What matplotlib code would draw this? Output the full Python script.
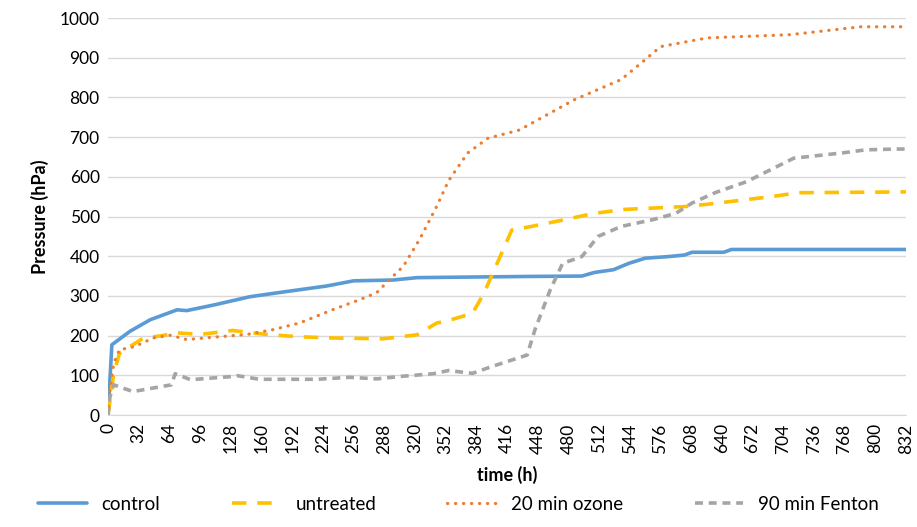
import matplotlib
matplotlib.use('Agg')
import matplotlib.pyplot as plt

plt.rcParams['font.family'] = ['Lato', 'DejaVu Sans']

# tempos (h) e pressao (hPa)
t_control = [0, 4, 23, 44, 72, 82, 110, 148, 183, 228, 256, 297, 322, 357, 437,
             494, 507, 527, 543, 560, 584, 601, 609, 642, 650, 832]
p_control = [0, 177, 211, 240, 265, 263, 277, 298, 310, 325, 338, 340, 346, 347, 349,
             350, 359, 366, 382, 395, 399, 403, 410, 410, 417, 417]

t_untreated = [0, 6, 12, 20, 37, 54, 72, 96, 130, 165, 200, 235, 287, 322, 343, 352,
               380, 392, 421, 433, 466, 507, 539, 601, 629, 691, 720, 832]
p_untreated = [0, 105, 156, 168, 194, 199, 207, 203, 213, 203, 197, 194, 192, 202, 232, 236,
               256, 307, 466, 471, 487, 508, 518, 525, 532, 550, 560, 562]

t_ozone = [0, 2, 6, 12, 23, 32, 47, 65, 82, 110, 145, 172, 200, 235, 263, 280, 294,
           308, 325, 343, 355, 375, 396, 429, 486, 535, 560, 576, 625, 711, 785, 832]
p_ozone = [0, 63, 131, 165, 169, 177, 194, 201, 190, 196, 203, 215, 232, 266, 291, 308, 342,
           375, 443, 527, 590, 660, 697, 718, 794, 845, 895, 928, 950, 958, 978, 978]

t_fenton = [0, 2, 6, 26, 47, 66, 70, 86, 130, 135, 158, 218, 252, 280, 304, 339, 355,
            380, 400, 437, 445, 461, 474, 494, 511, 535, 568, 592, 609, 633, 666, 691,
            715, 765, 790, 822, 832]
p_fenton = [0, 46, 76, 59, 68, 76, 104, 89, 97, 99, 90, 90, 95, 91, 97, 104, 112,
            105, 122, 151, 214, 315, 382, 399, 450, 475, 492, 508, 534, 560, 588, 618,
            647, 660, 668, 670, 670]

x_ticks = list(range(0, 833, 32))
y_ticks = list(range(0, 1001, 100))

fig = plt.figure(figsize=(9.17, 5.27), dpi=100)
ax = fig.add_axes([0.1178, 0.2125, 0.8702, 0.7533])

ax.plot(t_control, p_control, color='#5B9BD5', lw=2.6, label='control',
        solid_capstyle='round')
ax.plot(t_untreated, p_untreated, color='#FFC000', lw=2.6, label='untreated',
        linestyle=(0, (4, 3)))
ax.plot(t_ozone, p_ozone, color='#ED7D31', lw=2.3, label='20 min ozone',
        linestyle=(0, (0.1, 2.4)), dash_capstyle='round')
ax.plot(t_fenton, p_fenton, color='#A5A5A5', lw=2.6, label='90 min Fenton',
        linestyle=(0, (2.2, 1.6)))

ax.set_xlim(0, 832)
ax.set_ylim(0, 1000)
ax.set_xticks(x_ticks)
ax.set_xticklabels([str(v) for v in x_ticks], rotation=90, fontsize=12.5)
ax.set_yticks(y_ticks)
ax.set_yticklabels([str(v) for v in y_ticks], fontsize=12.5)
ax.tick_params(length=0, pad=6)
ax.grid(axis='y', color='#D9D9D9', lw=1)
ax.set_axisbelow(True)
for lado in ['top', 'right', 'left']:
    ax.spines[lado].set_visible(False)
ax.spines['bottom'].set_color('#D9D9D9')

ax.set_xlabel('time (h)', fontsize=13, fontweight='bold', labelpad=9)
ax.set_ylabel('Pressure (hPa)', fontsize=13, fontweight='bold', labelpad=8)

fig.legend(loc='lower center', bbox_to_anchor=(0.5, -0.005), ncol=4, frameon=False,
           fontsize=13.5, handlelength=2.6, columnspacing=3.8)

fig.savefig('out.png', dpi=100)
